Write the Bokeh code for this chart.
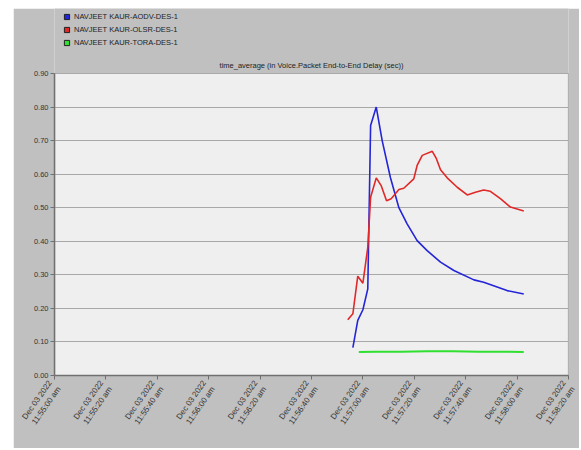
from bokeh.plotting import figure
from bokeh.models import (Range1d, FixedTicker, Label, Legend, LegendItem,
                          NumeralTickFormatter, Spacer)
from bokeh.layouts import row, column
from bokeh.embed import file_html
from bokeh.resources import INLINE

# ---- data (x = seconds after Dec 03 2022 11:55:00 am) ----
series_names = ["NAVJEET KAUR-AODV-DES-1", "NAVJEET KAUR-OLSR-DES-1", "NAVJEET KAUR-TORA-DES-1"]

aodv_t = [116.1, 118.0, 120.0, 121.9, 123.0, 125.2, 127.5, 130.7, 134.0, 137.2, 141.1,
          145.0, 150.2, 155.4, 163.2, 167.0, 176.1, 182.6]
aodv_v = [0.083, 0.164, 0.196, 0.258, 0.745, 0.800, 0.700, 0.590, 0.500, 0.452, 0.402,
          0.372, 0.338, 0.313, 0.285, 0.278, 0.253, 0.243]

olsr_t = [114.1, 116.1, 118.0, 120.0, 121.9, 123.0, 125.2, 127.1, 129.2, 131.0, 134.0,
          135.9, 139.8, 141.1, 143.1, 147.0, 148.6, 150.2, 152.8, 156.7, 160.6, 163.8,
          167.0, 169.6, 173.5, 177.4, 182.6]
olsr_v = [0.166, 0.184, 0.296, 0.275, 0.382, 0.531, 0.589, 0.566, 0.521, 0.527, 0.554,
          0.558, 0.586, 0.626, 0.656, 0.668, 0.646, 0.613, 0.589, 0.561, 0.538, 0.546,
          0.553, 0.549, 0.527, 0.502, 0.490]

tora_t = [118.4, 125.0, 135.0, 145.0, 155.0, 165.0, 175.0, 182.6]
tora_v = [0.070, 0.071, 0.071, 0.072, 0.072, 0.071, 0.071, 0.070]

x_ticks = [0, 20, 40, 60, 80, 100, 120, 140, 160, 180, 200]
x_tick_labels = ["Dec 03 2022\n11:55:00 am", "Dec 03 2022\n11:55:20 am", "Dec 03 2022\n11:55:40 am",
                 "Dec 03 2022\n11:56:00 am", "Dec 03 2022\n11:56:20 am", "Dec 03 2022\n11:56:40 am",
                 "Dec 03 2022\n11:57:00 am", "Dec 03 2022\n11:57:20 am", "Dec 03 2022\n11:57:40 am",
                 "Dec 03 2022\n11:58:00 am", "Dec 03 2022\n11:58:20 am"]
y_ticks = [0.0, 0.1, 0.2, 0.3, 0.4, 0.5, 0.6, 0.7, 0.8, 0.9]
title_text = "time_average (in Voice.Packet End-to-End Delay (sec))"

X_MIN, X_MAX = x_ticks[0], x_ticks[-1]
Y_MIN, Y_MAX = y_ticks[0], y_ticks[-1]

colors = ["#2424d8", "#e02828", "#30e030"]
FONT = "Liberation Sans"
NAN = float("nan")

# frame extends up to the top of the canvas so that legend and title are not clipped;
# the plot area itself (0..0.9) is painted as a quad underneath the grid.
TOP_PX, PLOT_TOP_PX, PLOT_BOTTOM_PX = 0, 65, 367
y_top = Y_MAX * (PLOT_BOTTOM_PX - TOP_PX) / (PLOT_BOTTOM_PX - PLOT_TOP_PX)

p = figure(width=566, height=440, output_backend="svg", toolbar_location=None,
           x_range=Range1d(X_MIN, X_MAX), y_range=Range1d(Y_MIN, y_top),
           min_border_left=41, min_border_right=11, min_border_top=0, min_border_bottom=73)
p.background_fill_color = "#c0c0c0"
p.border_fill_color = "#c0c0c0"
p.outline_line_color = None

p.quad(left=[X_MIN], right=[X_MAX], bottom=[Y_MIN], top=[Y_MAX],
       fill_color="#efefef", line_color="#8c8c8c", line_width=1.2, level="image")

p.xgrid.visible = False
p.ygrid.ticker = FixedTicker(ticks=y_ticks)
p.ygrid.grid_line_color = "#a8a8a8"
p.ygrid.grid_line_width = 1.2

p.xaxis.ticker = FixedTicker(ticks=x_ticks)
p.xaxis.major_label_overrides = {t: l for t, l in zip(x_ticks, x_tick_labels)}
p.xaxis.major_label_orientation = 0.96
p.yaxis.ticker = FixedTicker(ticks=y_ticks)
p.yaxis.formatter = NumeralTickFormatter(format="0.00")
p.yaxis.bounds = (Y_MIN, Y_MAX)
for ax in (p.xaxis, p.yaxis):
    ax.axis_line_color = "#707070"
    ax.axis_line_width = 1.5
    ax.major_tick_line_color = "#707070"
    ax.major_tick_in = 0
    ax.major_tick_out = 4
    ax.minor_tick_line_color = None
    ax.major_label_text_font = FONT
    ax.major_label_text_font_size = "7.5px"
    ax.major_label_text_color = "#333333"
p.xaxis.major_label_text_font_size = "8px"
p.xaxis.major_label_standoff = 5
p.yaxis.major_label_standoff = 2

p.line(aodv_t, aodv_v, line_color=colors[0], line_width=1.6)
p.line(olsr_t, olsr_v, line_color=colors[1], line_width=1.6)
p.line(tora_t, tora_v, line_color=colors[2], line_width=2)

items = []
for name, c in zip(series_names, colors):
    r = p.scatter(x=[NAN], y=[NAN], marker="square", size=8, fill_color=c,
                  line_color="#202020", line_width=1)
    items.append(LegendItem(label=name, renderers=[r]))
legend = Legend(items=items, location=(6, 326), padding=0, margin=0, spacing=0,
                glyph_width=13, glyph_height=13, label_height=13, label_standoff=1,
                label_text_font=FONT, label_text_font_size="7.5px", label_text_color="#222222",
                background_fill_alpha=0, border_line_color=None)
p.add_layout(legend, "center")

p.add_layout(Label(x=(X_MIN + X_MAX) / 2, y=Y_MAX, y_offset=8, text=title_text,
                   text_align="center", text_baseline="middle", text_font=FONT,
                   text_font_size="7.5px", text_color="#222222"))

layout = column(Spacer(width=579, height=8),
                row(Spacer(width=13, height=440), p))
open("out.html", "w").write(file_html(layout, INLINE))
